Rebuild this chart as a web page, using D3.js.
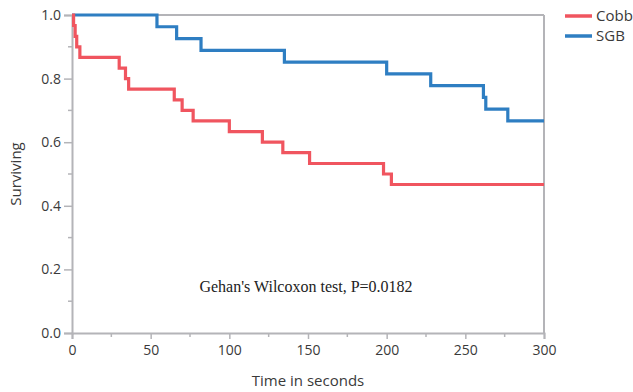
<!DOCTYPE html>
<html>
<head>
<meta charset="utf-8">
<script src="https://cdn.jsdelivr.net/npm/d3@7"></script>
<style>
  body { margin: 0; background: #fff; }
  text { font-family: "Open Sans", "Noto Sans", sans-serif; }
</style>
</head>
<body>
<div id="chart"></div>
<script>
// Kaplan-Meier step data: event times (s) and survival after each event
const cobbTimes = [0, 1, 2, 3, 5, 30, 34, 36, 65, 70, 77, 100, 121, 134, 151, 198, 203, 300];
const cobbSurv  = [1, 0.967, 0.933, 0.9, 0.867, 0.833, 0.8, 0.767, 0.733, 0.7, 0.667, 0.633, 0.6, 0.567, 0.533, 0.5, 0.467, 0.467];
const sgbTimes = [0, 54, 66.5, 82, 135, 200, 228, 261.5, 263, 277, 300];
const sgbSurv  = [1, 0.963, 0.926, 0.889, 0.852, 0.815, 0.778, 0.741, 0.704, 0.667, 0.667];

const seriesNames = ['Cobb', 'SGB'];
const seriesColors = ['#F0555F', '#2E7EC2'];
const xTicks = [0, 50, 100, 150, 200, 250, 300];
const yTicks = [0, 0.2, 0.4, 0.6, 0.8, 1.0];
const annotation = "Gehan's Wilcoxon test, P=0.0182";

const width = 633, height = 392;
const margin = { top: 15, right: 89, bottom: 59, left: 72 };
const innerW = width - margin.left - margin.right;
const innerH = height - margin.top - margin.bottom;
const axisColor = '#b4b4b8';
const textColor = '#3a3a3a';

const svg = d3.select('#chart').append('svg')
  .attr('width', width)
  .attr('height', height);

const g = svg.append('g')
  .attr('transform', `translate(${margin.left},${margin.top})`);

const x = d3.scaleLinear().domain([0, 300]).range([0, innerW]);
const y = d3.scaleLinear().domain([0, 1]).range([innerH, 0]);

// frame: top and right border
g.append('line').attr('x1', 0).attr('x2', innerW).attr('y1', 0).attr('y2', 0)
  .attr('stroke', axisColor).attr('stroke-width', 2);
g.append('line').attr('x1', innerW).attr('x2', innerW).attr('y1', 0).attr('y2', innerH)
  .attr('stroke', axisColor).attr('stroke-width', 2);

// x axis
const xAxis = g.append('g').attr('transform', `translate(0,${innerH})`)
  .call(d3.axisBottom(x).tickValues(xTicks).tickSize(6).tickPadding(6).tickFormat(d3.format('d')));
// minor x ticks
g.append('g').attr('transform', `translate(0,${innerH})`)
  .selectAll('line').data(d3.range(25, 300, 50)).join('line')
  .attr('x1', d => x(d)).attr('x2', d => x(d)).attr('y1', 0).attr('y2', 4)
  .attr('stroke', axisColor).attr('stroke-width', 1.5);

// y axis
const yAxis = g.append('g')
  .call(d3.axisLeft(y).tickValues(yTicks).tickSize(8).tickPadding(3).tickFormat(d3.format('.1f')));
g.append('g')
  .selectAll('line').data(d3.range(0.1, 1, 0.2)).join('line')
  .attr('x1', 0).attr('x2', -4).attr('y1', d => y(d)).attr('y2', d => y(d))
  .attr('stroke', axisColor).attr('stroke-width', 1.5);

[xAxis, yAxis].forEach(a => {
  a.select('.domain').attr('stroke', axisColor).attr('stroke-width', 2);
  a.selectAll('.tick line').attr('stroke', axisColor).attr('stroke-width', 1.5);
  a.selectAll('.tick text').attr('fill', textColor)
    .style('font-size', '14px').style('font-family', '"Open Sans", "Noto Sans", sans-serif');
});

// survival curves
const line = d3.line()
  .x(d => x(d[0]))
  .y(d => y(d[1]))
  .curve(d3.curveStepAfter);

const series = [
  d3.zip(cobbTimes, cobbSurv),
  d3.zip(sgbTimes, sgbSurv)
];

// SGB drawn first so Cobb sits on top where they overlap at 1.0
[1, 0].forEach(i => {
  g.append('path')
    .datum(series[i])
    .attr('d', line)
    .attr('fill', 'none')
    .attr('stroke', seriesColors[i])
    .attr('stroke-width', 3.2);
});

// annotation
g.append('text')
  .attr('x', x(150) - 2)
  .attr('y', y(0.13))
  .attr('text-anchor', 'middle')
  .style('font-family', '"Liberation Serif", "Times New Roman", serif')
  .style('font-size', '16px')
  .attr('fill', '#222')
  .text(annotation);

// axis titles
svg.append('text')
  .attr('x', margin.left + innerW / 2)
  .attr('y', 386)
  .attr('text-anchor', 'middle')
  .style('font-size', '15px')
  .attr('fill', textColor)
  .text('Time in seconds');

svg.append('text')
  .attr('transform', `translate(21,${margin.top + innerH / 2}) rotate(-90)`)
  .attr('text-anchor', 'middle')
  .style('font-size', '15px')
  .attr('fill', textColor)
  .text('Surviving');

// legend
const legend = svg.append('g').attr('transform', 'translate(565,16)');
seriesNames.forEach((name, i) => {
  const row = legend.append('g').attr('transform', `translate(0,${i * 20})`);
  row.append('line').attr('x1', 0).attr('x2', 27).attr('y1', 0).attr('y2', 0)
    .attr('stroke', seriesColors[i]).attr('stroke-width', 3.5);
  row.append('text').attr('x', 31).attr('y', 0).attr('dy', '0.35em')
    .style('font-size', '15px').attr('fill', textColor).text(name);
});
</script>
</body>
</html>
